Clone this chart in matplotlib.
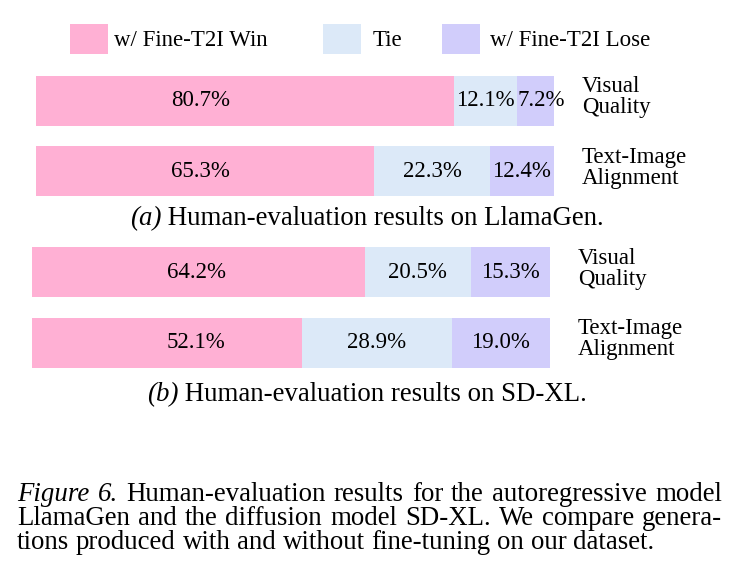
import matplotlib
matplotlib.use('Agg')
import matplotlib.pyplot as plt
from matplotlib.patches import Rectangle
from matplotlib.transforms import IdentityTransform

plt.rcParams['font.family'] = ['Liberation Serif', 'DejaVu Serif']

W, H = 739, 569
FS = 16.5
CAP_FS = 19.4

categories = ['Visual\nQuality', 'Text-Image\nAlignment']
series = ['w/ Fine-T2I Win', 'Tie', 'w/ Fine-T2I Lose']
llamagen = [[80.7, 65.3], [12.1, 22.3], [7.2, 12.4]]
sdxl = [[64.2, 52.1], [20.5, 28.9], [15.3, 19.0]]
colors = ['#FFB0D4', '#DCE9F8', '#D1CDFB']

fig = plt.figure(figsize=(W / 100, H / 100), dpi=100)
px = IdentityTransform()


def draw_runs(parts, x, y, fs, center=False):
    rend = fig.canvas.get_renderer()
    arts = [fig.text(0, y, s, fontstyle=st, fontsize=fs, transform=px, va='baseline')
            for s, st in parts]
    widths = [a.get_window_extent(rend).width for a in arts]
    x0 = x - sum(widths) / 2 if center else x
    for a, w in zip(arts, widths):
        a.set_x(x0)
        x0 += w


def justify(words, x0, x1, y, fs):
    rend = fig.canvas.get_renderer()
    arts = [fig.text(0, y, s, fontstyle=st, fontsize=fs, transform=px, va='baseline')
            for s, st in words]
    widths = [a.get_window_extent(rend).width for a in arts]
    gap = (x1 - x0 - sum(widths)) / (len(words) - 1) if x1 else fs * 100 / 72 * 0.25
    x = x0
    for a, w in zip(arts, widths):
        a.set_x(x)
        x += w + gap


def panel(box, data, sub, title, title_y):
    l, t, r, b = box
    ax = fig.add_axes([l / W, 1 - b / H, (r - l) / W, (b - t) / H])
    y = list(range(len(categories)))
    left = [0.0] * len(categories)
    for k, vals in enumerate(data):
        ax.barh(y, vals, left=left, height=0.714, color=colors[k], lw=0)
        for i, v in enumerate(vals):
            # win labels sit at a fixed spot, the rest are centred
            if k == 0:
                xc = 31.7
            else:
                xc = left[i] + v / 2 + (1.2 if v < 10 else 0)
            ax.text(xc, i, '%.1f%%' % v, ha='center', va='center', fontsize=FS)
        left = [a + v for a, v in zip(left, vals)]
    for i, c in enumerate(categories):
        ax.text(1 + 28 / (r - l), i - 0.05, c, transform=ax.get_yaxis_transform(),
                ha='left', va='center', fontsize=FS, linespacing=1.0)
    ax.set_xlim(0, 100)
    ax.set_ylim(len(categories) - 1 + 0.357, -0.357)
    ax.axis('off')
    draw_runs([(sub, 'italic'), (' ' + title, 'normal')], 367, H - title_y,
              CAP_FS, center=True)
    return ax


# legend
leg_x = [70, 323, 442]
leg_tx = [114, 373, 490]
for k, name in enumerate(series):
    fig.add_artist(Rectangle((leg_x[k], H - 54), 38, 30, transform=px,
                             color=colors[k], lw=0))
    fig.text(leg_tx[k], H - 40, name, transform=px, fontsize=FS, va='center')

panel((36, 76, 554, 196), llamagen, '(a)', 'Human-evaluation results on LlamaGen.', 225)
panel((32, 247, 550, 368), sdxl, '(b)', 'Human-evaluation results on SD-XL.', 401)

cap = [
    'Figure| 6.| Human-evaluation results for the autoregressive model',
    'LlamaGen and the diffusion model SD-XL. We compare genera-',
    'tions produced with and without fine-tuning on our dataset.',
]
base = [501, 525, 549]
for n, line in enumerate(cap):
    words = []
    for w in line.split(' '):
        if w.endswith('|'):
            words.append((w[:-1], 'italic'))
        else:
            words.append((w, 'normal'))
    justify(words, 17, 722 if n < 2 else None, H - base[n], CAP_FS)

fig.savefig('out.png', dpi=100)
